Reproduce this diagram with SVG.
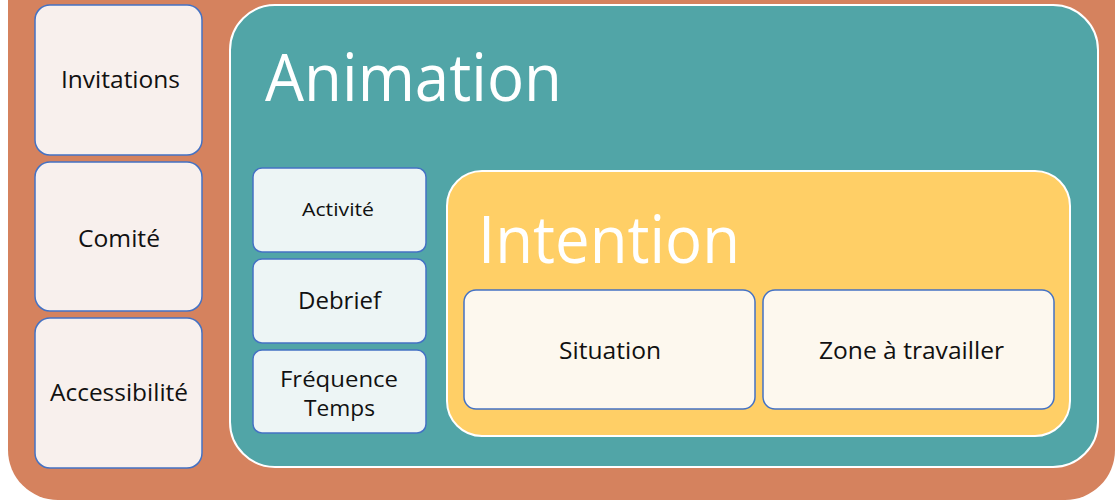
<svg xmlns="http://www.w3.org/2000/svg" width="1115" height="500" viewBox="0 0 1115 500">
<style>
.side{fill:#f8f0ed;stroke:#4472c4;stroke-width:1.5}
.tbox{fill:#edf5f5;stroke:#4472c4;stroke-width:1.5}
.ybox{fill:#fdf8ee;stroke:#4472c4;stroke-width:1.5}
.t{font-family:"Open Sans","Liberation Sans",sans-serif;fill:#111;text-anchor:middle}
.big{font-family:"Open Sans","Liberation Sans",sans-serif;fill:#fff}
</style>
<rect width="1115" height="500" fill="#ffffff"/>
<g id="outer"><rect x="8" y="-60" width="1107" height="560" rx="50" fill="#d5825e"/></g>
<g id="invitations"><rect class="side" x="35" y="5" width="167" height="150" rx="15"/><text class="t" x="120.5" y="88" font-size="24" textLength="119" lengthAdjust="spacingAndGlyphs">Invitations</text></g>
<g id="comite"><rect class="side" x="35" y="162" width="167" height="149" rx="15"/><text class="t" x="119" y="247" font-size="24" textLength="82" lengthAdjust="spacingAndGlyphs">Comité</text></g>
<g id="accessibilite"><rect class="side" x="35" y="318" width="167" height="150" rx="15"/><text class="t" x="119" y="401" font-size="24" textLength="138" lengthAdjust="spacingAndGlyphs">Accessibilité</text></g>
<g id="animation"><rect x="230" y="5" width="868" height="462" rx="45" fill="#51a5a7" stroke="#ffffff" stroke-width="2"/><text class="big" x="265" y="101" font-size="66" textLength="297" lengthAdjust="spacingAndGlyphs">Animation</text></g>
<g id="activite"><rect class="tbox" x="253" y="168" width="173" height="84" rx="9"/><text class="t" x="338" y="216" font-size="18" textLength="72" lengthAdjust="spacingAndGlyphs">Activité</text></g>
<g id="debrief"><rect class="tbox" x="253" y="259" width="173" height="84" rx="9"/><text class="t" x="339.5" y="309" font-size="24" textLength="83" lengthAdjust="spacingAndGlyphs">Debrief</text></g>
<g id="frequence"><rect class="tbox" x="253" y="350" width="173" height="83" rx="9"/><text class="t" x="339" y="387" font-size="21" textLength="118" lengthAdjust="spacingAndGlyphs">Fréquence</text><text class="t" x="339.5" y="416" font-size="21" textLength="71" lengthAdjust="spacingAndGlyphs">Temps</text></g>
<g id="intention"><rect x="447" y="171" width="623" height="265" rx="35" fill="#ffcf66" stroke="#ffffff" stroke-width="2"/><text class="big" x="478" y="263" font-size="66" textLength="262" lengthAdjust="spacingAndGlyphs">Intention</text></g>
<g id="situation"><rect class="ybox" x="464" y="290" width="291" height="119" rx="12"/><text class="t" x="610" y="359" font-size="24" textLength="102" lengthAdjust="spacingAndGlyphs">Situation</text></g>
<g id="zone"><rect class="ybox" x="763" y="290" width="291" height="119" rx="12"/><text class="t" x="911.5" y="359" font-size="24" textLength="185" lengthAdjust="spacingAndGlyphs">Zone à travailler</text></g>
<g id="connectors"/>
</svg>
